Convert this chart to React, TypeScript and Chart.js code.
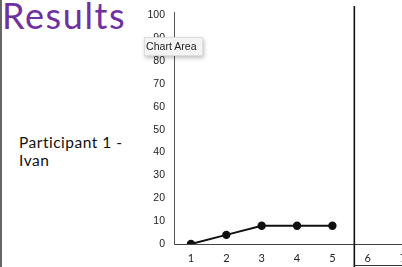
import React, { useEffect, useRef } from "react";
import { Chart, registerables } from "chart.js";

Chart.register(...registerables);

const sessions = [1, 2, 3, 4, 5];
const scores = [0, 4, 8, 8, 8];
const xTickValues = [1, 2, 3, 4, 5, 6, 7];
const yMin = 0;
const yMax = 100;
const yStep = 10;
const xMin = 0.52;
const xMax = 7.76;
const phaseChangeX = 5.62;

const titleText = "Results";
const participantLines = ["Participant 1 -", "Ivan"];
const tooltipText = "Chart Area";

const phasePlugin = {
  id: "phaseLine",
  afterDraw(chart: any) {
    const { ctx, scales, chartArea } = chart;
    const x = scales.x.getPixelForValue(phaseChangeX);
    ctx.save();
    ctx.strokeStyle = "#555";
    ctx.lineWidth = 1;
    ctx.beginPath();
    ctx.moveTo(chartArea.left + 0.5, 12);
    ctx.lineTo(chartArea.left + 0.5, chartArea.top);
    ctx.stroke();
    ctx.strokeStyle = "#111";
    ctx.lineWidth = 1.6;
    ctx.beginPath();
    ctx.moveTo(x, 6);
    ctx.lineTo(x, chart.height);
    ctx.stroke();
    ctx.strokeStyle = "#333";
    ctx.lineWidth = 1;
    ctx.beginPath();
    ctx.moveTo(x, 265.5);
    ctx.lineTo(chart.width, 265.5);
    ctx.stroke();
    ctx.restore();
  },
};

export default function App() {
  const canvasRef = useRef<HTMLCanvasElement | null>(null);

  useEffect(() => {
    document.body.style.margin = "0";
    document.body.style.overflow = "hidden";
    const canvas = canvasRef.current;
    if (!canvas) return;
    const chart = new Chart(canvas, {
      type: "scatter",
      data: {
        datasets: [
          {
            data: sessions.map((s, i) => ({ x: s, y: scores[i] })),
            showLine: true,
            borderColor: "#111",
            backgroundColor: "#111",
            borderWidth: 2,
            pointRadius: 3.2,
            pointBackgroundColor: "#111",
            pointBorderColor: "#111",
          },
        ],
      },
      options: {
        animation: false,
        responsive: false,
        maintainAspectRatio: false,
        events: [],
        layout: { padding: { top: 15, left: 0, right: 0, bottom: 0 } },
        plugins: {
          legend: { display: false },
          tooltip: { enabled: false },
          title: { display: false },
        },
        scales: {
          x: {
            type: "linear",
            min: xMin,
            max: xMax,
            grid: { display: false, drawTicks: false },
            border: { display: true, color: "#444", width: 1 },
            afterBuildTicks: (s: any) => {
              s.ticks = xTickValues.map((v) => ({ value: v }));
            },
            afterFit: (s: any) => {
              s.height = 23;
            },
            ticks: {
              padding: 8,
              maxRotation: 0,
              autoSkip: false,
              color: "#222",
              font: { family: "Lato, 'Liberation Sans', sans-serif", size: 11 },
              callback: (v: any) => String(v),
            },
          },
          y: {
            type: "linear",
            min: yMin,
            max: yMax,
            grid: { display: false, drawTicks: false },
            border: { display: true, color: "#555", width: 1 },
            afterFit: (s: any) => {
              s.width = 44;
            },
            ticks: {
              stepSize: yStep,
              padding: 9,
              color: "#222",
              font: { family: "'Liberation Sans', Arial, sans-serif", size: 10.5 },
            },
          },
        },
      },
      plugins: [phasePlugin],
    } as any);
    return () => chart.destroy();
  }, []);

  return (
    <div style={{ position: "fixed", left: 0, top: 0, width: 402, height: 267, background: "#fff", overflow: "hidden" }}>
      <div style={{ position: "absolute", left: 0, top: 0, width: 2, height: 267, background: "#666" }} />
      <div
        style={{
          position: "absolute",
          left: 2,
          top: -7,
          fontFamily: "Lato, 'Open Sans', sans-serif",
          fontSize: 36,
          letterSpacing: 1.6,
          color: "#7030A0",
          lineHeight: "44px",
          whiteSpace: "nowrap",
        }}
      >
        {titleText}
      </div>
      <div
        style={{
          position: "absolute",
          left: 19,
          top: 133,
          fontFamily: "Lato, 'Open Sans', sans-serif",
          fontSize: 15.5,
          letterSpacing: 0.5,
          color: "#111",
          lineHeight: "18px",
          whiteSpace: "nowrap",
        }}
      >
        {participantLines.map((l, i) => (
          <div key={i}>{l}</div>
        ))}
      </div>
      <canvas
        ref={canvasRef}
        width={306}
        height={267}
        style={{ position: "absolute", left: 130, top: 0, width: 306, height: 267 }}
      />
      <div
        style={{
          position: "absolute",
          left: 144,
          top: 37,
          width: 59,
          height: 19,
          boxSizing: "border-box",
          background: "#f4f4f4",
          border: "1px solid #ddd",
          boxShadow: "1px 2px 4px rgba(0,0,0,0.25)",
          fontFamily: "'Liberation Sans', Arial, sans-serif",
          fontSize: 10.6,
          color: "#222",
          lineHeight: "17px",
          paddingLeft: 1,
          whiteSpace: "nowrap",
        }}
      >
        {tooltipText}
      </div>
    </div>
  );
}
